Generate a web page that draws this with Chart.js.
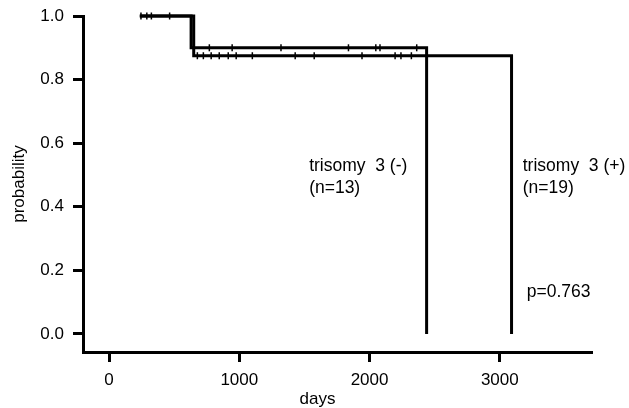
<!DOCTYPE html>
<html>
<head>
<meta charset="utf-8">
<script src="https://cdn.jsdelivr.net/npm/chart.js@4/dist/chart.umd.min.js"></script>
<style>
  html,body{margin:0;padding:0;background:#fff;}
  #wrap{width:629px;height:408px;position:relative;}
</style>
</head>
<body>
<div id="wrap"><canvas id="km"></canvas></div>
<script>
/* ── DATA ── */
// trisomy 3 (-), n=13
const daysMinus = [235, 630, 2438];
const probMinus = [1.0, 0.9, 0.0];
const censMinusDays = [245, 290, 325, 465, 770, 945, 1320, 1838, 2048, 2080, 2362];
const censMinusProb = [1.0, 1.0, 1.0, 1.0, 0.9, 0.9, 0.9, 0.9, 0.9, 0.9, 0.9];
// trisomy 3 (+), n=19
const daysPlus = [240, 650, 3090];
const probPlus = [1.0, 0.875, 0.0];
const censPlusDays = [678, 724, 784, 846, 915, 976, 1100, 1429, 1575, 1942, 2196, 2241, 2321];
const censPlusProb = censPlusDays.map(()=>0.875);

const xTicks = [0, 1000, 2000, 3000];
const yTicks = [0.0, 0.2, 0.4, 0.6, 0.8, 1.0];

const pts = (xs,ys)=>xs.map((x,i)=>({x, y:ys[i]}));
const FONT = '"Liberation Sans", Arial, sans-serif';

/* ── ANNOTATIONS ── */
const notes = {
  id:'notes',
  afterDraw(chart){
    const {ctx, scales:{x, y}} = chart;
    ctx.save();
    ctx.fillStyle = '#000';
    ctx.font = '17.5px ' + FONT;
    ctx.textBaseline = 'alphabetic';
    ctx.textAlign = 'left';
    ctx.fillText('trisomy  3 (-)', x.getPixelForValue(1536), y.getPixelForValue(0.513));
    ctx.fillText('(n=13)',         x.getPixelForValue(1536), y.getPixelForValue(0.443));
    ctx.fillText('trisomy  3 (+)', x.getPixelForValue(3176), y.getPixelForValue(0.513));
    ctx.fillText('(n=19)',         x.getPixelForValue(3176), y.getPixelForValue(0.443));
    ctx.fillText('p=0.763',        x.getPixelForValue(3207), y.getPixelForValue(0.116));
    ctx.font = '17px ' + FONT;
    ctx.textAlign = 'center';
    ctx.fillText('days', x.getPixelForValue(1600), chart.height - 4);
    ctx.restore();
  }
};

const curve = (data)=>({
  type:'line', data, stepped:'before', borderColor:'#000', borderWidth:3,
  pointRadius:0, fill:false, clip:false, order:2
});
const marks = (data)=>({
  type:'scatter', data, pointStyle:'line', rotation:90, pointRadius:3.5,
  borderColor:'#000', borderWidth:1.5, clip:false, order:1
});

new Chart(document.getElementById('km').getContext('2d'), {
  type:'scatter',
  data:{
    datasets:[
      curve(pts(daysMinus, probMinus)),
      curve(pts(daysPlus, probPlus)),
      marks(pts(censMinusDays, censMinusProb)),
      marks(pts(censPlusDays, censPlusProb))
    ]
  },
  options:{
    responsive:true, maintainAspectRatio:false, animation:false,
    layout:{padding:{top:16, right:38, bottom:0, left:0}},
    plugins:{legend:{display:false}, tooltip:{enabled:false}},
    scales:{
      x:{
        type:'linear', min:-200, max:3700,
        afterBuildTicks: s=>{ s.ticks = xTicks.map(v=>({value:v})); },
        afterFit: s=>{ s.height = 56; s.paddingLeft = 0; s.paddingRight = 0; },
        ticks:{color:'#000', padding:8, maxRotation:0, font:{family:FONT, size:17},
               callback: v=>String(v)},
        grid:{display:true, drawOnChartArea:false, drawTicks:true, tickLength:10, lineWidth:3, color:'#000'},
        border:{display:true, color:'#000', width:3}
      },
      y:{
        type:'linear', min:-0.057, max:1.0,
        afterBuildTicks: s=>{ s.ticks = yTicks.map(v=>({value:v})); },
        afterFit: s=>{ s.width = 83; s.paddingTop = 0; s.paddingBottom = 0; },
        ticks:{color:'#000', padding:9, font:{family:FONT, size:17},
               callback: v=>v.toFixed(1)},
        grid:{display:true, drawOnChartArea:false, drawTicks:true, tickLength:10, lineWidth:3, color:'#000'},
        border:{display:true, color:'#000', width:3},
        title:{display:true, text:'probability', color:'#000', padding:{top:9, bottom:0},
               font:{family:FONT, size:17}}
      }
    }
  },
  plugins:[notes]
});
</script>
</body>
</html>
